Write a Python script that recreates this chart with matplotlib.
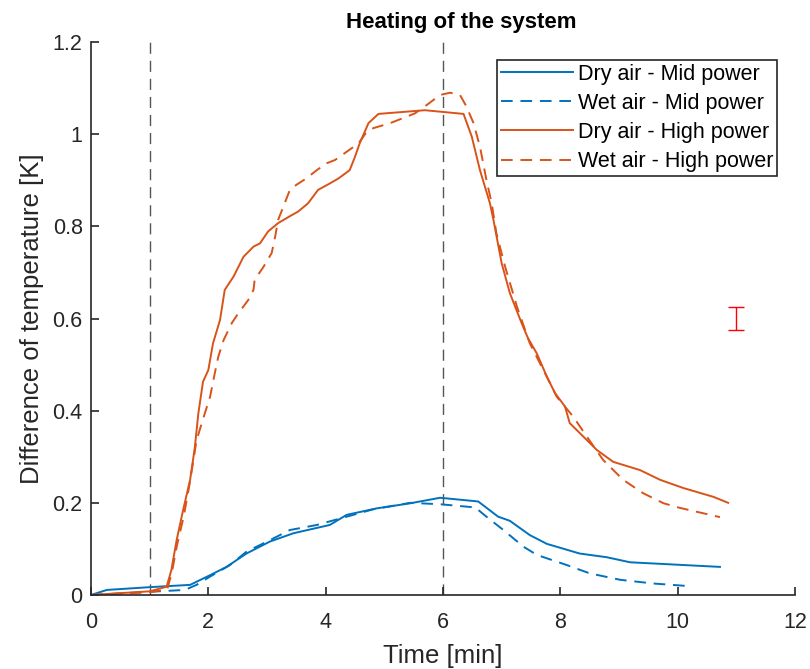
import matplotlib
matplotlib.use("Agg")
import matplotlib.pyplot as plt

plt.rcParams['font.family'] = ['Liberation Sans', 'DejaVu Sans']

# Dry air - Mid power
dry_mid_t = [0, 0.27, 1.0, 1.69, 2.03, 2.31, 2.65, 3.05, 3.45, 4.07, 4.36, 4.87, 5.44, 5.95,
             6.60, 6.94, 7.14, 7.48, 7.77, 8.33, 8.79, 9.19, 10.72]
dry_mid_v = [0, 0.011, 0.017, 0.022, 0.043, 0.061, 0.090, 0.116, 0.134, 0.152, 0.174, 0.188, 0.199, 0.211,
             0.203, 0.170, 0.161, 0.130, 0.111, 0.090, 0.082, 0.071, 0.061]

# Wet air - Mid power
wet_mid_t = [0, 1.0, 1.60, 1.80, 2.03, 2.37, 2.65, 3.05, 3.39, 3.85, 4.36, 4.81, 5.44, 5.95,
             6.55, 6.74, 7.03, 7.37, 7.60, 8.11, 8.50, 9.02, 9.58, 10.12]
wet_mid_v = [0, 0.007, 0.011, 0.022, 0.040, 0.065, 0.094, 0.119, 0.141, 0.152, 0.170, 0.186, 0.200, 0.197,
             0.190, 0.170, 0.141, 0.105, 0.087, 0.065, 0.047, 0.033, 0.025, 0.020]

# Dry air - High power
dry_high_t = [0, 1.0, 1.29, 1.37, 1.46, 1.57, 1.69, 1.77, 1.83, 1.91, 2.0, 2.08, 2.20, 2.28, 2.43,
              2.60, 2.77, 2.88, 3.02, 3.19, 3.39, 3.53, 3.70, 3.87, 4.07, 4.22, 4.41, 4.50, 4.58,
              4.73, 4.90, 5.69, 6.35, 6.49, 6.63, 6.80, 6.86, 7.00, 7.14, 7.34, 7.45, 7.60, 7.77,
              7.91, 8.08, 8.16, 8.39, 8.62, 8.90, 9.36, 9.70, 10.10, 10.61, 10.86]
dry_high_v = [0, 0.008, 0.018, 0.054, 0.119, 0.184, 0.25, 0.32, 0.394, 0.463, 0.488, 0.546, 0.597, 0.662, 0.691,
              0.734, 0.756, 0.763, 0.789, 0.807, 0.822, 0.832, 0.850, 0.879, 0.893, 0.904, 0.922, 0.951, 0.980,
              1.024, 1.044, 1.052, 1.044, 0.995, 0.922, 0.850, 0.814, 0.720, 0.655, 0.590, 0.557, 0.524, 0.474,
              0.438, 0.409, 0.373, 0.344, 0.315, 0.289, 0.271, 0.250, 0.232, 0.213, 0.200]

# Wet air - High power
wet_high_t = [0, 1.0, 1.30, 1.38, 1.47, 1.58, 1.68, 1.80, 1.94, 2.03, 2.11, 2.17, 2.26, 2.40, 2.51,
              2.68, 2.77, 2.79, 2.94, 3.08, 3.14, 3.19, 3.28, 3.39, 3.50, 3.67, 3.85, 4.02, 4.16,
              4.36, 4.56, 4.70, 4.81, 5.10, 5.52, 5.72, 5.95, 6.12, 6.29, 6.40, 6.52, 6.63, 6.74,
              6.83, 6.91, 7.06, 7.26, 7.48, 7.74, 7.94, 8.22, 8.45, 8.73, 9.07, 9.41, 9.76, 10.04, 10.72]
wet_high_v = [0, 0.006, 0.012, 0.05, 0.11, 0.17, 0.24, 0.336, 0.394, 0.430, 0.481, 0.517, 0.553, 0.590, 0.611,
              0.640, 0.662, 0.684, 0.712, 0.742, 0.778, 0.814, 0.843, 0.879, 0.890, 0.904, 0.922, 0.937, 0.944,
              0.962, 0.980, 1.005, 1.013, 1.024, 1.045, 1.063, 1.085, 1.090, 1.085, 1.060, 1.024, 0.973, 0.901,
              0.850, 0.785, 0.712, 0.626, 0.546, 0.481, 0.430, 0.387, 0.344, 0.293, 0.250, 0.221, 0.199, 0.189, 0.169]

# Markers (vertical lines) and error bar
vlines_t = [1, 6]
err_t = [11]
err_v = [0.6]
err_e = [0.025]

x_ticks = [0, 2, 4, 6, 8, 10, 12]
y_ticks = [0, 0.2, 0.4, 0.6, 0.8, 1.0, 1.2]
y_ticklabels = ['0', '0.2', '0.4', '0.6', '0.8', '1', '1.2']

blue = '#0072BD'
orange = '#D95319'
dash = (0, (6, 4))

fig = plt.figure(figsize=(8.1, 6.69), dpi=100)
ax = fig.add_axes([0.1123, 0.1106, 0.8692, 0.8266])

ax.plot(dry_mid_t, dry_mid_v, color=blue, lw=1.4, label='Dry air - Mid power')
ax.plot(wet_mid_t, wet_mid_v, color=blue, lw=1.4, ls=dash, label='Wet air - Mid power')
ax.plot(dry_high_t, dry_high_v, color=orange, lw=1.4, label='Dry air - High power')
ax.plot(wet_high_t, wet_high_v, color=orange, lw=1.4, ls=dash, label='Wet air - High power')

for t in vlines_t:
    ax.axvline(t, color='#555555', lw=1.0, ls=(0, (8, 5)), zorder=0)

ax.errorbar(err_t, err_v, yerr=err_e, color='#FF0000', lw=1.0, capsize=6, capthick=1.0, fmt='none')

ax.set_xlim(0, 12)
ax.set_ylim(0, 1.2)
ax.set_xticks(x_ticks)
ax.set_yticks(y_ticks)
ax.set_yticklabels(y_ticklabels)

for s in ['top', 'right']:
    ax.spines[s].set_visible(False)
for s in ['left', 'bottom']:
    ax.spines[s].set_color('#262626')
    ax.spines[s].set_linewidth(1.2)
ax.tick_params(direction='in', length=6, width=1.2, colors='#262626', labelsize=15.5)
ax.tick_params(axis='x', pad=12)
ax.tick_params(axis='y', pad=6)
for lab in ax.get_xticklabels() + ax.get_yticklabels():
    lab.set_color('#262626')

ax.set_xlabel('Time [min]', fontsize=18.5, color='#262626', labelpad=8)
ax.set_ylabel('Difference of temperature [K]', fontsize=18.5, color='#262626', labelpad=6)
ax.set_title('Heating of the system', fontsize=16, fontweight='bold', pad=10,
             x=(461 - 91) / 704)

leg = ax.legend(loc='upper right', bbox_to_anchor=(0.975, 0.968), borderaxespad=0,
                fontsize=15.5, handlelength=3.35, handletextpad=0.22, labelspacing=0.38,
                borderpad=0.18, fancybox=False, framealpha=1, edgecolor='#262626')
leg.get_frame().set_linewidth(1.2)

fig.savefig('out.png', dpi=100)
